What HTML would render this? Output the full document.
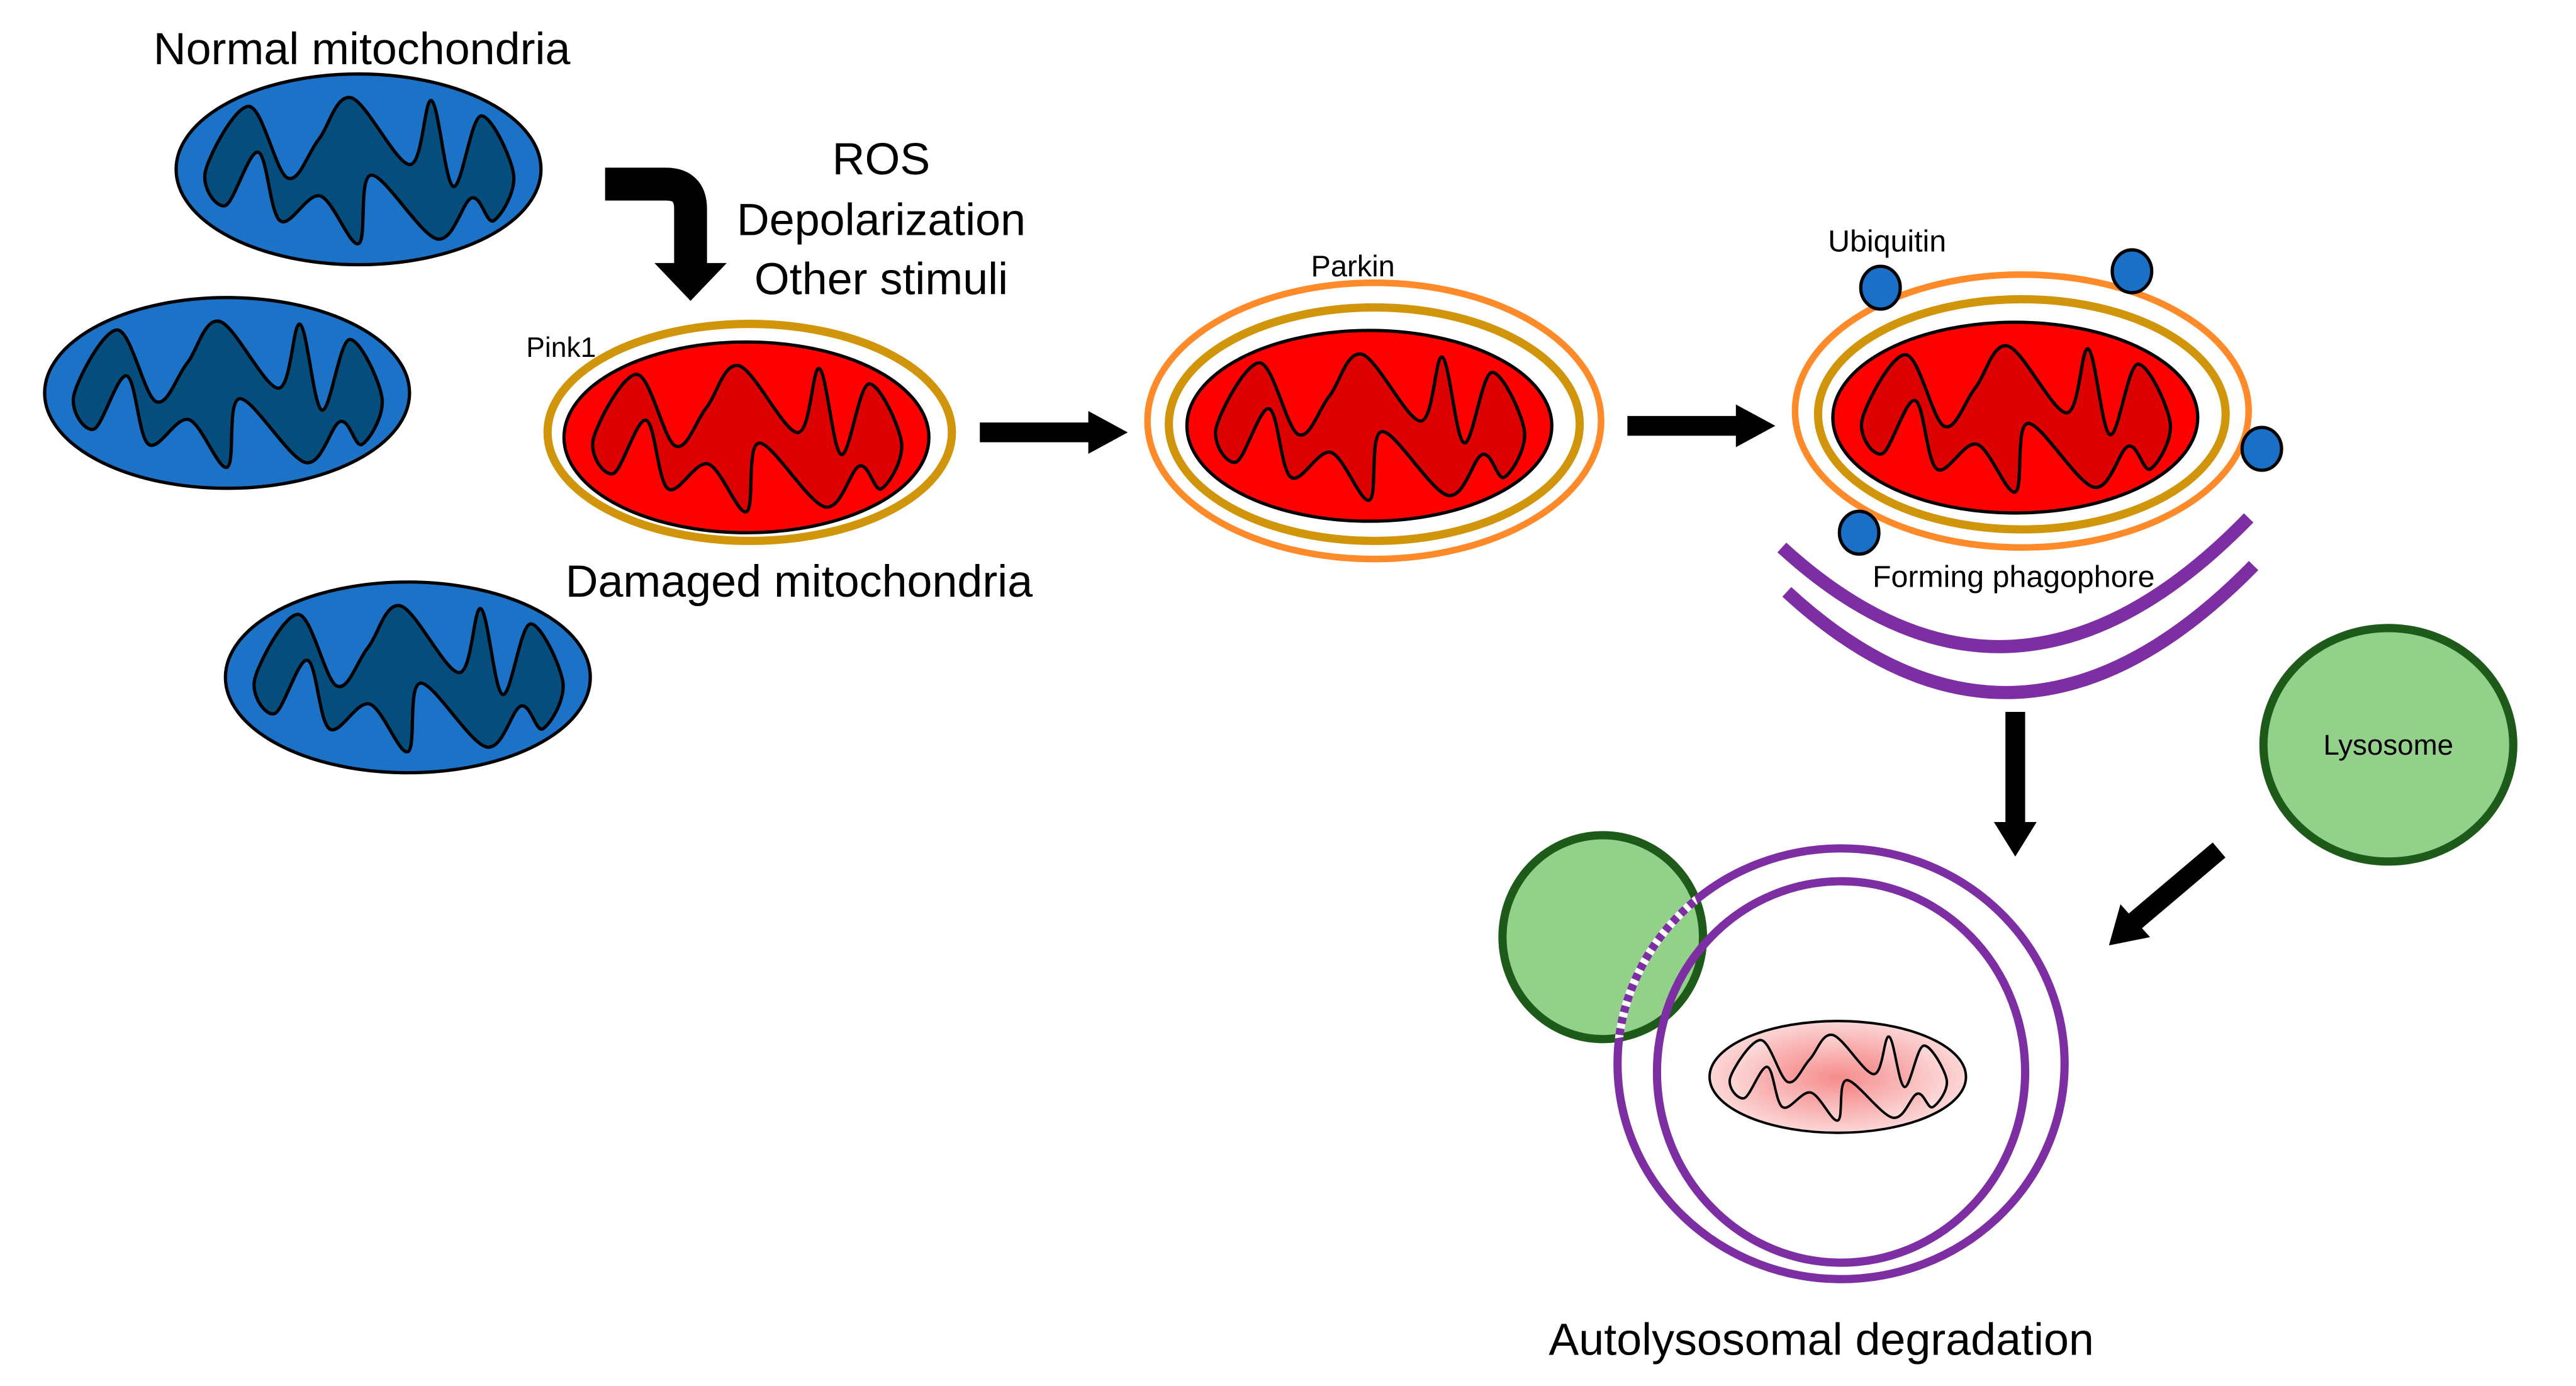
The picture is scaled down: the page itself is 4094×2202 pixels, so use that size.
<!DOCTYPE html>
<html><head><meta charset="utf-8"><style>
html,body{margin:0;padding:0;background:#fff;}
svg{display:block;}
text{font-family:"Liberation Sans",sans-serif;fill:#000;}
</style></head><body>
<svg id="s" width="4094" height="2202" viewBox="0 0 1567 843" xmlns="http://www.w3.org/2000/svg">
<defs>
<radialGradient id="pg" cx="50%" cy="50%" r="55%">
<stop offset="0" stop-color="#f47a7a"/><stop offset="1" stop-color="#fde0e0"/>
</radialGradient>
<radialGradient id="pg2" cx="50%" cy="50%" r="60%">
<stop offset="0" stop-color="#f68b8b"/><stop offset="1" stop-color="#fde4e4"/>
</radialGradient>
<clipPath id="gc"><ellipse cx="975" cy="570" rx="61" ry="62"/></clipPath>
</defs>

<text x="220" y="39" font-size="27.5" text-anchor="middle">Normal mitochondria</text>

<g id="mitos"></g>

<path d="M368,112 H405 Q420,112 420,127 V162" fill="none" stroke="#000" stroke-width="20"/>
<polygon points="398,160 442,160 420,183" fill="#000"/>
<text x="536" y="106" font-size="27.5" text-anchor="middle">ROS</text>
<text x="536" y="143" font-size="27.5" text-anchor="middle">Depolarization</text>
<text x="536" y="179" font-size="27.5" text-anchor="middle">Other stimuli</text>

<text x="320" y="217" font-size="17">Pink1</text>
<ellipse cx="456" cy="263" rx="123" ry="66" fill="none" stroke="#d0950a" stroke-width="5"/>
<text x="486" y="363" font-size="27.5" text-anchor="middle">Damaged mitochondria</text>

<line x1="596" y1="263" x2="664" y2="263" stroke="#000" stroke-width="12"/>
<polygon points="662,250 686,263 662,276" fill="#000"/>
<line x1="990" y1="259" x2="1058" y2="259" stroke="#000" stroke-width="12"/>
<polygon points="1056,246 1080,259 1056,272" fill="#000"/>

<text x="823" y="168" font-size="18" text-anchor="middle">Parkin</text>
<ellipse cx="836" cy="256" rx="138" ry="84" fill="none" stroke="#ff8a2a" stroke-width="4"/>
<ellipse cx="836" cy="258" rx="125" ry="71" fill="none" stroke="#d0950a" stroke-width="5"/>

<text x="1148" y="153" font-size="18.5" text-anchor="middle">Ubiquitin</text>
<ellipse cx="1230" cy="250" rx="138" ry="83" fill="none" stroke="#ff8a2a" stroke-width="4"/>
<ellipse cx="1230" cy="252" rx="124" ry="70" fill="none" stroke="#d0950a" stroke-width="5"/>

<g id="mitos2"></g>

<g fill="#1a70c6" stroke="#000" stroke-width="2">
<ellipse cx="1144" cy="175" rx="12" ry="13"/>
<ellipse cx="1297" cy="165" rx="12" ry="13"/>
<ellipse cx="1376" cy="273" rx="12" ry="13"/>
<ellipse cx="1131" cy="324" rx="12" ry="13"/>
</g>

<path d="M1084,333 Q1225,462 1368,315" fill="none" stroke="#7e2ea3" stroke-width="8"/>
<path d="M1087,360 Q1228,490 1371,344" fill="none" stroke="#7e2ea3" stroke-width="8"/>
<text x="1225" y="357" font-size="18.5" text-anchor="middle">Forming phagophore</text>

<line x1="1226" y1="433" x2="1226" y2="502" stroke="#000" stroke-width="12"/>
<polygon points="1213,500 1239,500 1226,521" fill="#000"/>

<ellipse cx="1453" cy="453" rx="76" ry="71" fill="#93d18a" stroke="#1e5a1a" stroke-width="5"/>
<text x="1453" y="459" font-size="17.5" text-anchor="middle">Lysosome</text>

<line x1="1350" y1="517" x2="1298" y2="561" stroke="#000" stroke-width="12"/>
<polygon points="1283,575 1290,550 1308,570" fill="#000"/>

<ellipse cx="975" cy="570" rx="61" ry="62" fill="#93d18a" stroke="#1e5a1a" stroke-width="5"/>
<ellipse cx="1120" cy="647" rx="136" ry="131" fill="none" stroke="#7e2ea3" stroke-width="5"/>
<ellipse cx="1120" cy="647" rx="136" ry="131" fill="none" stroke="#fff" stroke-width="5" stroke-dasharray="3 4" clip-path="url(#gc)"/>
<ellipse cx="1120" cy="652" rx="112" ry="116" fill="none" stroke="#7e2ea3" stroke-width="5"/>
<g id="mitos3"></g>

<text x="1108" y="824" font-size="27.5" text-anchor="middle">Autolysosomal degradation</text>
</svg>
<script>
var P=[[-0.84,0.02],[-0.60,-0.66],[-0.39,0.09],[-0.22,-0.31],[-0.04,-0.75],[0.28,-0.05],[0.40,-0.72],[0.52,0.18],[0.67,-0.56],[0.85,0.06],[0.74,0.54],[0.62,0.30],[0.43,0.73],[0.07,0.06],[0.00,0.78],[-0.21,0.28],[-0.43,0.54],[-0.55,-0.18],[-0.73,0.38]];
function cr(cx,cy,rx,ry){var p=P.map(function(a){return [cx+a[0]*rx,cy+a[1]*ry]});var n=p.length,d="M"+p[0][0].toFixed(1)+","+p[0][1].toFixed(1);
for(var i=0;i<n;i++){var p0=p[(i-1+n)%n],p1=p[i],p2=p[(i+1)%n],p3=p[(i+2)%n];
var c1=[p1[0]+(p2[0]-p0[0])/6,p1[1]+(p2[1]-p0[1])/6],c2=[p2[0]-(p3[0]-p1[0])/6,p2[1]-(p3[1]-p1[1])/6];
d+="C"+c1[0].toFixed(1)+","+c1[1].toFixed(1)+" "+c2[0].toFixed(1)+","+c2[1].toFixed(1)+" "+p2[0].toFixed(1)+","+p2[1].toFixed(1);}
return d+"Z";}
var NS="http://www.w3.org/2000/svg";
function mito(g,cx,cy,rx,ry,fill,cfill,sw){
var e=document.createElementNS(NS,"ellipse");e.setAttribute("cx",cx);e.setAttribute("cy",cy);e.setAttribute("rx",rx);e.setAttribute("ry",ry);e.setAttribute("fill",fill);e.setAttribute("stroke","#000");e.setAttribute("stroke-width",sw);g.appendChild(e);
var p=document.createElementNS(NS,"path");p.setAttribute("d",cr(cx,cy,rx,ry));p.setAttribute("fill",cfill);p.setAttribute("stroke","#000");p.setAttribute("stroke-width",sw);g.appendChild(p);}
var g=document.getElementById("mitos");
mito(g,218,103,111,58,"#1c72c6","#054d7c",2);
mito(g,138,239,111,58,"#1c72c6","#054d7c",2);
mito(g,248,412,111,58,"#1c72c6","#054d7c",2);
mito(g,454,266,111,58,"#ff0000","#dc0000",2);
var g2=document.getElementById("mitos2");
mito(g2,833,259,111,58,"#ff0000","#dc0000",2);
mito(g2,1226,254,111,58,"#ff0000","#dc0000",2);
var g3=document.getElementById("mitos3");
mito(g3,1118,655,78,34,"url(#pg)","url(#pg2)",1.5);
</script>
</body></html>
